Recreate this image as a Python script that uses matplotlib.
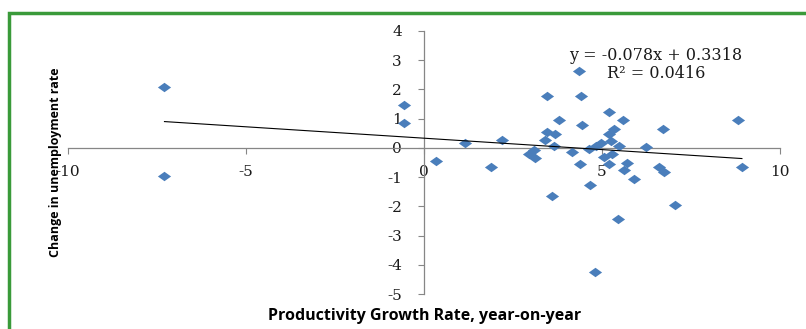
import numpy as np
import matplotlib.pyplot as plt
from matplotlib.patches import Rectangle
from matplotlib.path import Path

# productivity growth (x) vs change in unemployment (y)
growth = [-7.29, -7.29, -0.56, -0.56, 0.35, 1.16, 1.88, 2.20, 2.94, 3.08,
          3.13, 3.41, 3.46, 3.46, 3.60, 3.64, 3.69, 3.78, 4.16, 4.36,
          4.41, 4.39, 4.44, 4.63, 4.66, 4.79, 4.82, 4.96, 5.05, 5.19,
          5.19, 5.19, 5.24, 5.29, 5.33, 5.46, 5.47, 5.60, 5.69, 5.63,
          5.90, 6.23, 6.71, 6.61, 6.74, 7.06, 8.83, 8.93]
unemp_change = [2.07, -0.96, 1.46, 0.86, -0.45, 0.16, -0.65, 0.26, -0.22, -0.08,
                -0.35, 0.26, 0.56, 1.77, -1.66, 0.07, 0.47, 0.96, -0.14, 2.63,
                1.77, -0.54, 0.78, -0.04, -1.27, -4.26, 0.07, 0.18, -0.31, 1.24,
                0.47, -0.56, 0.24, -0.22, 0.64, -2.44, 0.07, 0.95, -0.52, -0.76,
                -1.07, 0.03, 0.66, -0.65, -0.83, -1.95, 0.96, -0.65]

# trendline as reported on the chart
slope = -0.078
intercept = 0.3318
eq_text = "y = -0.078x + 0.3318"
r2_text = "R² = 0.0416"

xticks = [-10, -5, 0, 5, 10]
yticks = [-5, -4, -3, -2, -1, 0, 1, 2, 3, 4]

W, H = 806, 329
fig = plt.figure(figsize=(W / 100, H / 100), dpi=100)
fig.patch.set_facecolor("white")

ax = fig.add_axes([68 / W, 1 - 294 / H, (780 - 68) / W, (294 - 31) / H])
ax.set_xlim(-10, 10)
ax.set_ylim(-5, 4)

# wide diamond like the excel marker
diamond = Path([(-1.4, 0), (0, 1), (1.4, 0), (0, -1), (-1.4, 0)],
               [Path.MOVETO, Path.LINETO, Path.LINETO, Path.LINETO, Path.CLOSEPOLY])
ax.plot(growth, unemp_change, linestyle="none", marker=diamond, markersize=9.5,
        color="#4a7ebb", markeredgewidth=0, zorder=3)

tx = np.array([min(growth), max(growth)])
ax.plot(tx, slope * tx + intercept, color="black", lw=0.8, zorder=4)

for side in ["top", "right"]:
    ax.spines[side].set_visible(False)
ax.spines["left"].set_position(("data", 0))
ax.spines["bottom"].set_position(("data", 0))
for side in ["left", "bottom"]:
    ax.spines[side].set_color("#868686")
    ax.spines[side].set_linewidth(0.9)

ax.set_xticks(xticks)
ax.set_yticks(yticks)
ax.set_xticklabels([str(v) for v in xticks])
ax.set_yticklabels([str(v) for v in yticks])
ax.tick_params(axis="y", direction="out", length=4, width=0.8, color="#868686",
               pad=12, labelsize=11)
ax.tick_params(axis="x", direction="out", length=4, width=0.8, color="#868686",
               pad=8, labelsize=11)
for lab in ax.get_xticklabels() + ax.get_yticklabels():
    lab.set_fontfamily("DejaVu Serif")
    lab.set_color("#1a1a1a")

fig.text(656 / W, 1 - 55 / H, eq_text, ha="center", va="center",
         fontsize=11.5, family="DejaVu Serif", color="#1a1a1a")
fig.text(656 / W, 1 - 73 / H, r2_text, ha="center", va="center",
         fontsize=11.5, family="DejaVu Serif", color="#1a1a1a")

fig.text(425 / W, 1 - 316 / H, "Productivity Growth Rate, year-on-year",
         ha="center", va="center", fontsize=11.5, fontweight="bold", family="Open Sans")
fig.text(55 / W, 1 - 162 / H, "Change in unemployment rate", rotation=90,
         ha="center", va="center", fontsize=9, fontweight="bold", family="Open Sans")

# green frame running off the right and bottom edges
fig.patches.append(Rectangle((9 / W, -0.1), 1.2, 1 - 13 / H + 0.1,
                             transform=fig.transFigure, fill=False,
                             edgecolor="#3a9a3a", lw=2.5, zorder=0))

fig.savefig("out.png", dpi=100)
